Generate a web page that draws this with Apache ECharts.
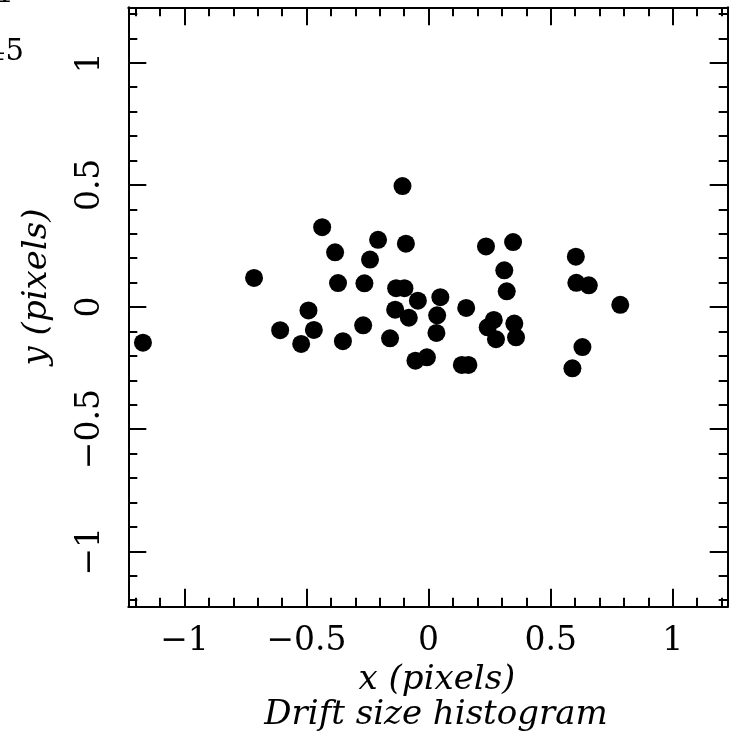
<!DOCTYPE html>
<html>
<head>
<meta charset="utf-8">
<script src="https://cdn.jsdelivr.net/npm/echarts@6/dist/echarts.min.js"></script>
<style>
html,body{margin:0;padding:0;background:#fff;}
#chart{width:738px;height:737px;}
</style>
</head>
<body>
<div id="chart"></div>
<script>
// Data
const xValues = [-1.170, -0.715, -0.107, -0.436, -0.383, -0.207, -0.093, -0.240, -0.371, -0.263,
  -0.133, -0.099, -0.044, -0.492, -0.137, -0.081, -0.608, -0.470, -0.522, -0.351,
  -0.268, -0.158, -0.054, -0.007, 0.048, 0.035, 0.032, 0.154, 0.136, 0.163,
  0.235, 0.346, 0.310, 0.320, 0.267, 0.242, 0.276, 0.351, 0.358, 0.603,
  0.605, 0.656, 0.785, 0.630, 0.589];
const yValues = [-0.146, 0.119, 0.495, 0.327, 0.224, 0.275, 0.259, 0.194, 0.098, 0.097,
  0.077, 0.077, 0.026, -0.014, -0.011, -0.044, -0.095, -0.094, -0.151, -0.140,
  -0.075, -0.128, -0.220, -0.206, 0.040, -0.034, -0.106, -0.004, -0.237, -0.237,
  0.248, 0.266, 0.150, 0.064, -0.053, -0.083, -0.132, -0.068, -0.124, 0.206,
  0.099, 0.089, 0.009, -0.164, -0.251];
const xRange = [-1.23, 1.225];
const yRange = [-1.227, 1.227];
const xTitle = 'x (pixels)';
const yTitle = 'y (pixels)';
const plotTitle = 'Drift size histogram';
const cornerTexts = ['41', '45'];

const points = xValues.map((x, i) => [x, yValues[i]]);

function fmt(v) {
  const r = Math.round(v * 2) / 2;
  if (Math.abs(v - r) > 1e-6) return '';
  if (r === 0) return '0';
  return (r < 0 ? '\u2212' : '') + Math.abs(r);
}

const lineStyle = { color: '#000', width: 2 };
const labelFont = { fontFamily: 'DejaVu Serif', fontSize: 33, color: '#000' };
const titleFont = { fontFamily: 'DejaVu Serif', fontStyle: 'italic', fontSize: 34, color: '#000' };

function axisBase(range, showLabel, extra) {
  return Object.assign({
    type: 'value',
    min: range[0],
    max: range[1],
    splitNumber: 5,
    minInterval: 0.5,
    maxInterval: 0.5,
    axisLine: { show: true, onZero: false, lineStyle: lineStyle },
    axisTick: { show: true, inside: true, length: 18, lineStyle: lineStyle },
    minorTick: { show: true, splitNumber: 5, length: 9, lineStyle: lineStyle },
    splitLine: { show: false },
    axisLabel: Object.assign({ show: showLabel, formatter: fmt, showMinLabel: false, showMaxLabel: false }, labelFont)
  }, extra || {});
}

const chart = echarts.init(document.getElementById('chart'), null, { renderer: 'canvas' });
chart.setOption({
  animation: false,
  backgroundColor: '#fff',
  grid: { left: 128.3, right: 10.3, top: 7.3, bottom: 130.3, containLabel: false },
  xAxis: [
    axisBase(xRange, true, {
      position: 'bottom',
      name: xTitle,
      nameLocation: 'middle',
      nameGap: 56,
      nameTextStyle: Object.assign({ padding: [0, 0, 0, 18] }, titleFont),
      axisLabel: Object.assign({ show: true, formatter: fmt, margin: 18, showMinLabel: false, showMaxLabel: false }, labelFont)
    }),
    axisBase(xRange, false, { position: 'top' })
  ],
  yAxis: [
    axisBase(yRange, true, {
      position: 'left',
      name: yTitle,
      nameLocation: 'middle',
      nameGap: 74,
      nameTextStyle: Object.assign({ padding: [0, 0, 0, 40] }, titleFont),
      axisLabel: Object.assign({ show: true, formatter: fmt, margin: 21, rotate: 90, showMinLabel: false, showMaxLabel: false }, labelFont)
    }),
    axisBase(yRange, false, { position: 'right' })
  ],
  graphic: [
    { type: 'text', x: 436, y: 715, style: { text: plotTitle, textAlign: 'center', textVerticalAlign: 'middle', fill: '#000', font: 'italic 34px "DejaVu Serif"' } },
    { type: 'text', x: 14, y: -5.5, style: { text: cornerTexts[0], textAlign: 'right', textVerticalAlign: 'middle', fill: '#000', font: '29px "DejaVu Serif"' } },
    { type: 'text', x: 24, y: 52.5, style: { text: cornerTexts[1], textAlign: 'right', textVerticalAlign: 'middle', fill: '#000', font: '29px "DejaVu Serif"' } }
  ],
  series: [{
    type: 'scatter',
    xAxisIndex: 0,
    yAxisIndex: 0,
    symbol: 'circle',
    symbolSize: 18,
    itemStyle: { color: '#000', opacity: 1 },
    data: points
  }]
});
</script>
</body>
</html>
